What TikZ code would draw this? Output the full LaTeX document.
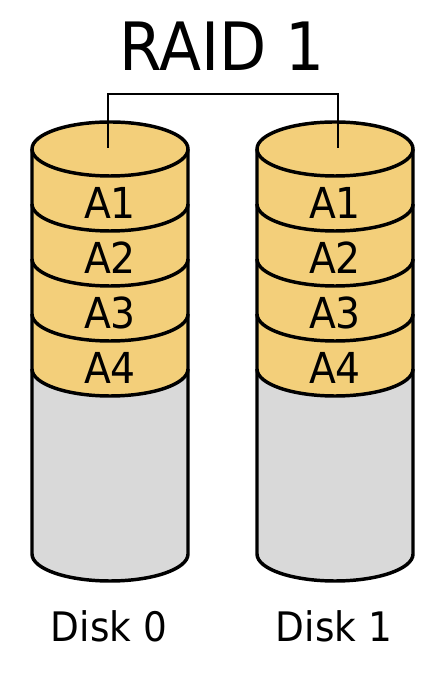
\documentclass[tikz,border=0pt]{standalone}
\usepackage{fontspec}
\setmainfont{DejaVu Sans}
\usepackage{tikz}

\definecolor{blockyellow}{RGB}{243,207,122}
\definecolor{diskgray}{RGB}{217,217,217}

\begin{document}
\begin{tikzpicture}[x=0.75pt,y=0.75pt,
    txt/.style={inner sep=0pt,xscale=0.92,transform shape},
    blocklabel/.style={txt,font=\fontsize{32pt}{32pt}\selectfont},
    disklabel/.style={txt,font=\fontsize{30.5pt}{30.5pt}\selectfont},
    rim/.style={line width=2.6pt,line join=round}]
  \useasboundingbox (0,0) rectangle (440,677);
  % two mirrored disks: centre x / number / x of the connector foot
  \foreach \cx/\n/\fx in {110/0/108,335/1/338} {
    \fill[diskgray] (\cx-78,528) -- (\cx-78,123)
      arc[start angle=180,end angle=360,x radius=78,y radius=27] -- (\cx+78,528) -- cycle;
    \fill[blockyellow] (\cx-78,528) -- (\cx-78,308)
      arc[start angle=180,end angle=360,x radius=78,y radius=27] -- (\cx+78,528)
      arc[start angle=0,end angle=180,x radius=78,y radius=27] -- cycle;
    \draw[rim] (\cx-78,528) -- (\cx-78,123)
      arc[start angle=180,end angle=360,x radius=78,y radius=27] -- (\cx+78,528);
    \draw[rim] (\cx,528) ellipse[x radius=78,y radius=27];
    \foreach \k in {1,2,3,4} {
      \draw[rim] (\cx-78,528-55*\k)
        arc[start angle=180,end angle=360,x radius=78,y radius=27];
      \node[blocklabel] (a\n\k) at (\cx,529.5-55*\k) {A\k};
    }
    \node[disklabel] (disk\n) at (\cx-1,51) {Disk \n};
    \coordinate (top\n) at (\fx,529);
  }
  \node[txt,font=\fontsize{50pt}{50pt}\selectfont] (title) at (222,631) {RAID 1};
  % mirror connector
  \draw[line width=1.8pt] (top0) -- ++(0,54) -| (top1);
\end{tikzpicture}
\end{document}
